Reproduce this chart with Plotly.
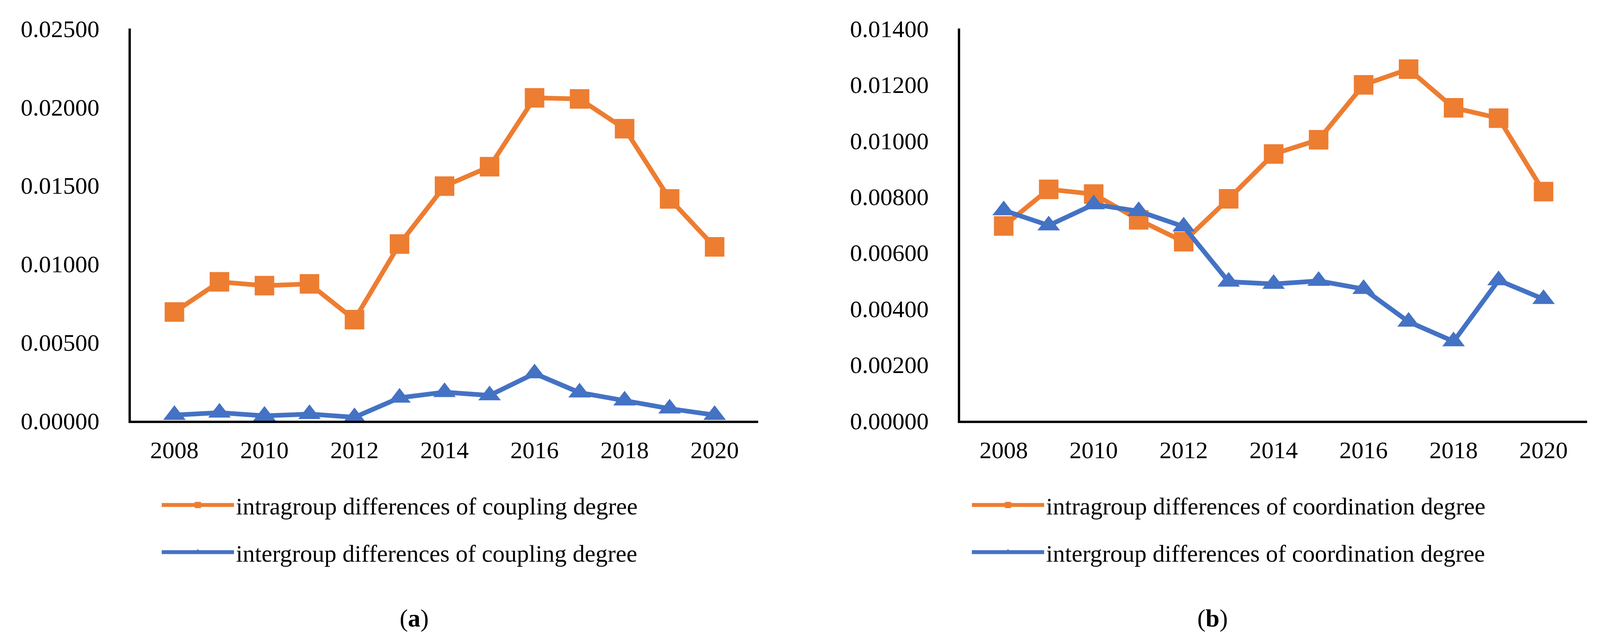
import plotly.graph_objects as go

years = [str(y) for y in range(2008, 2021)]
tick_years = ["2008", "2010", "2012", "2014", "2016", "2018", "2020"]

# (a) coupling degree
intra_coupling = [0.00693, 0.00885, 0.00861, 0.00872, 0.00644, 0.01126, 0.01495,
                  0.01619, 0.02058, 0.02051, 0.01861, 0.01414, 0.01108]
inter_coupling = [0.00036, 0.00051, 0.00031, 0.00042, 0.00022, 0.00146, 0.00182,
                  0.00161, 0.00301, 0.00179, 0.00128, 0.00077, 0.00036]

# (b) coordination degree
intra_coord = [0.00695, 0.00826, 0.00809, 0.00717, 0.00639, 0.00792, 0.00952,
               0.01003, 0.01199, 0.01255, 0.01117, 0.01080, 0.00818]
inter_coord = [0.00751, 0.00697, 0.00772, 0.00748, 0.00693, 0.00496, 0.00488,
               0.00499, 0.00470, 0.00353, 0.00283, 0.00501, 0.00434]

names_a = ["intragroup differences of coupling degree",
           "intergroup differences of coupling degree"]
names_b = ["intragroup differences of coordination degree",
           "intergroup differences of coordination degree"]
panel_labels = ["(<b>a</b>)", "(<b>b</b>)"]

ORANGE = "#ED7D31"
BLUE = "#4472C4"
FONT = "Liberation Serif, Times New Roman, serif"
FS = 62

fig = go.Figure()

def add_series(y, name, color, symbol, xa, ya, legend, group):
    fig.add_trace(go.Scatter(
        x=years, y=y, name=name, mode="lines+markers",
        line=dict(color=color, width=12),
        marker=dict(color=color, symbol=symbol, size=50),
        xaxis=xa, yaxis=ya, legend=legend, legendgroup=group,
        cliponaxis=False,
    ))

add_series(intra_coupling, names_a[0], ORANGE, "square", "x", "y", "legend", "a1")
add_series(inter_coupling, names_a[1], BLUE, "triangle-up", "x", "y", "legend", "a2")
add_series(intra_coord, names_b[0], ORANGE, "square", "x2", "y2", "legend2", "b1")
add_series(inter_coord, names_b[1], BLUE, "triangle-up", "x2", "y2", "legend2", "b2")

ydom = [1 - 1069 / 1641, 1 - 65 / 1641]
xaxis_common = dict(
    type="category", showline=True, linecolor="black", linewidth=6,
    showgrid=False, zeroline=False, ticks="", tickmode="array",
    tickvals=tick_years, ticktext=tick_years,
    tickfont=dict(family=FONT, size=FS, color="black"),
    ticklabelstandoff=16, automargin=False,
)
yaxis_common = dict(
    showline=True, linecolor="black", linewidth=6, showgrid=False,
    zeroline=False, ticks="", tickformat=".5f",
    tickfont=dict(family=FONT, size=FS, color="black"),
    ticklabelstandoff=62, domain=ydom, automargin=False,
)

legend_common = dict(
    font=dict(family=FONT, size=FS, color="black"),
    orientation="v", traceorder="grouped", tracegroupgap=37,
    bgcolor="rgba(0,0,0,0)", xanchor="left", yanchor="top",
    itemwidth=185,
)

fig.update_layout(
    width=4107, height=1641,
    margin=dict(l=0, r=0, t=0, b=0, autoexpand=False),
    paper_bgcolor="white", plot_bgcolor="white",
    showlegend=True,
    xaxis=dict(xaxis_common, domain=[327 / 4107, 1933 / 4107], anchor="y"),
    yaxis=dict(yaxis_common, range=[0, 0.025], dtick=0.005, anchor="x"),
    xaxis2=dict(xaxis_common, domain=[2450 / 4107, 4055 / 4107], anchor="y2"),
    yaxis2=dict(yaxis_common, range=[0, 0.014], dtick=0.002, anchor="x2"),
    legend=dict(legend_common, x=401 / 4107, y=1 - 1238 / 1641),
    legend2=dict(legend_common, x=2475 / 4107, y=1 - 1238 / 1641),
    annotations=[
        dict(text=panel_labels[0], x=1013 / 4107, y=1 - 1574 / 1641,
             xref="paper", yref="paper", showarrow=False, yanchor="middle",
             font=dict(family=FONT, size=64, color="black")),
        dict(text=panel_labels[1], x=3137 / 4107, y=1 - 1574 / 1641,
             xref="paper", yref="paper", showarrow=False, yanchor="middle",
             font=dict(family=FONT, size=64, color="black")),
    ],
)

fig.write_html("out.html")
